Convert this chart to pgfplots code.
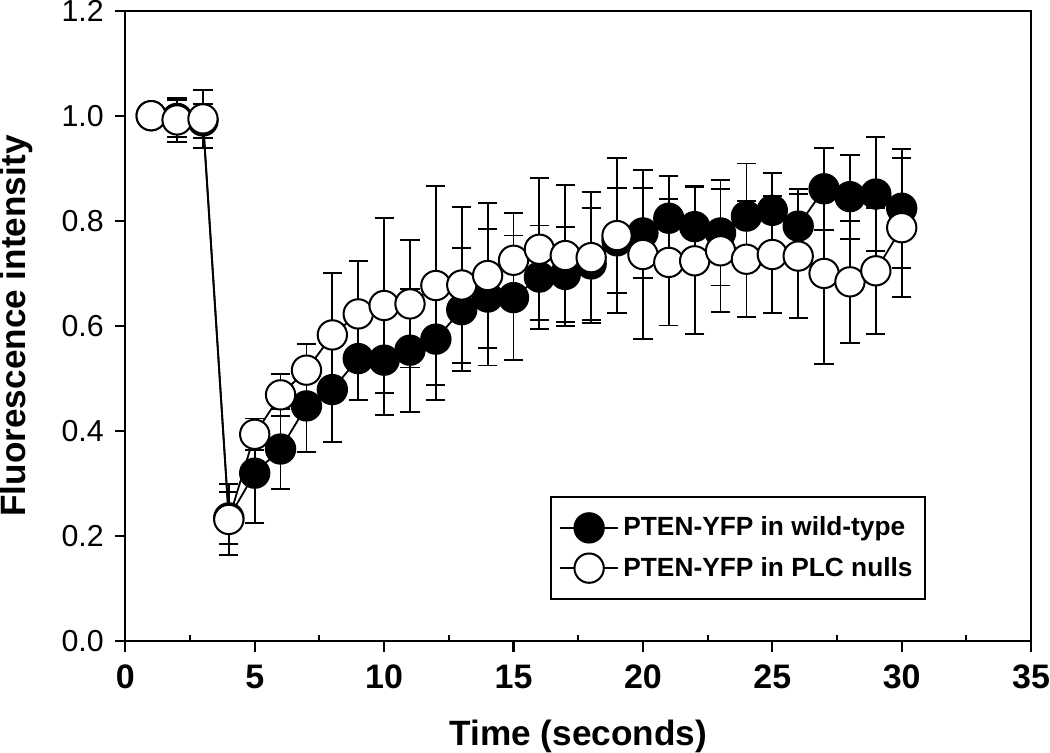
\documentclass[border=0pt]{standalone}
\usepackage{pgfplots}
\usepackage{pgfplotstable}
\usepackage{fontspec}
\setmainfont{Liberation Sans}
\pgfplotsset{compat=1.18}

% t, wild-type mean/err, PLC null mean/err
\pgfplotstableread{
t  wt     wterr  ko     koerr
1  1.000  0.000  1.000  0.000
2  0.995  0.035  0.992  0.042
3  0.990  0.032  0.994  0.055
4  0.235  0.050  0.232  0.068
5  0.320  0.095  0.394  0.030
6  0.366  0.076  0.469  0.040
7  0.448  0.087  0.516  0.050
8  0.479  0.100  0.583  0.118
9  0.538  0.078  0.623  0.100
10 0.535  0.104  0.639  0.167
11 0.554  0.117  0.642  0.121
12 0.575  0.115  0.677  0.190
13 0.631  0.117  0.678  0.148
14 0.655  0.130  0.696  0.138
15 0.654  0.118  0.725  0.090
16 0.693  0.098  0.746  0.135
17 0.698  0.091  0.734  0.134
18 0.718  0.106  0.730  0.125
19 0.762  0.100  0.772  0.148
20 0.777  0.085  0.736  0.160
21 0.805  0.080  0.721  0.120
22 0.789  0.077  0.724  0.140
23 0.777  0.100  0.743  0.117
24 0.809  0.100  0.727  0.110
25 0.820  0.071  0.736  0.112
26 0.790  0.070  0.733  0.118
27 0.861  0.078  0.700  0.172
28 0.846  0.080  0.684  0.116
29 0.851  0.108  0.705  0.120
30 0.824  0.113  0.787  0.132
}\pten

\begin{document}
\begin{tikzpicture}
\begin{axis}[
  scale only axis,
  width=448pt, height=312pt,
  xmin=0, xmax=35, ymin=0, ymax=1.2,
  xtick={0,5,...,35},
  ytick={0,0.2,...,1.2},
  extra x ticks={2.5,7.5,...,32.5},
  extra x tick labels={},
  extra x tick style={tick align=inside, major tick length=3pt},
  tick align=outside,
  tick pos=left,
  major tick length=5pt,
  axis line style={line width=1pt},
  every tick/.style={black, line width=1pt},
  /pgf/number format/assume math mode=true,
  xticklabel style={font=\bfseries\fontsize{16.8}{20}\selectfont, inner sep=0pt, yshift=-6.5pt},
  yticklabel style={font=\fontsize{15}{18}\selectfont, inner sep=0pt, xshift=-5.5pt, /pgf/number format/.cd, fixed, fixed zerofill, precision=1},
  xlabel={Time (seconds)},
  ylabel={Fluorescence intensity},
  label style={font=\bfseries\fontsize{17.4}{20}\selectfont, inner sep=0pt},
  xlabel shift=10pt,
  ylabel shift=14pt,
  legend style={at={(rel axis cs:0.8836,0.065)}, anchor=south east,
    draw=black, line width=1pt, inner xsep=4pt, inner ysep=8pt,
    row sep=5pt,
    font=\bfseries\fontsize{13}{15}\selectfont},
  legend cell align=left,
  legend image code/.code={
    \draw[mark repeat=2, mark phase=2, #1] plot coordinates {(0pt,0pt) (14.5pt,0pt) (29pt,0pt)};
  },
  error bars/error bar style={line width=0.9pt, black},
  error bars/error mark options={rotate=90, mark size=4.75pt, line width=0.9pt, black},
]
\addplot[black, line width=0.9pt, mark=*, mark size=7.25pt,
  mark options={fill=black, draw=black, line width=1pt},
  error bars/.cd, y dir=both, y explicit]
  table[x=t, y=wt, y error=wterr] {\pten};
\addlegendentry{PTEN-YFP in wild-type}
\addplot[black, line width=0.9pt, mark=*, mark size=7.25pt,
  mark options={fill=white, draw=black, line width=1pt},
  error bars/.cd, y dir=both, y explicit]
  table[x=t, y=ko, y error=koerr] {\pten};
\addlegendentry{PTEN-YFP in PLC nulls}
\end{axis}
\end{tikzpicture}
\end{document}
